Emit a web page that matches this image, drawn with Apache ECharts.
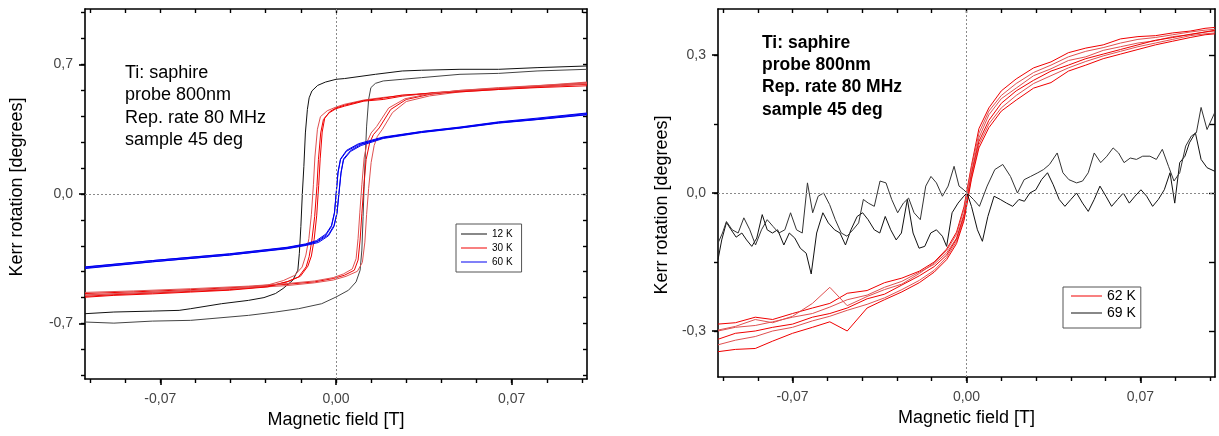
<!DOCTYPE html>
<html><head><meta charset="utf-8">
<script src="https://cdn.jsdelivr.net/npm/echarts@6/dist/echarts.min.js"></script>
<style>html,body{margin:0;padding:0;background:#fff}#c{width:1219px;height:436px}</style>
</head><body><div id="c"></div>
<script>
// ---------- tick values / labels ----------
const xTicks = [-0.098,-0.084,-0.07,-0.056,-0.042,-0.028,-0.014,0,0.014,0.028,0.042,0.056,0.07,0.084,0.098];
const xLabels = [-0.07, 0, 0.07];
const yTicksL = [-0.98,-0.84,-0.7,-0.56,-0.42,-0.28,-0.14,0,0.14,0.28,0.42,0.56,0.7,0.84,0.98];
const yLabelsL = [-0.7, 0, 0.7];
const yTicksR = [-0.3,-0.15,0,0.15,0.3];
const yLabelsR = [-0.3, 0, 0.3];

// ---------- left plot: 12 K ----------
const k12DownX = [0.1,0.0801,0.0648,0.0494,0.0341,0.0264,0.0157,0.0034,0,-0.0042,-0.0073,-0.0096,-0.0107,-0.0114,-0.0122,-0.0128,-0.0134,-0.0140,-0.0146,-0.0152,-0.0172,-0.0211,-0.0241,-0.0287,-0.0349,-0.0456,-0.0579,-0.0625,-0.0732,-0.0885,-0.1];
const k12DownY = [0.692,0.683,0.674,0.674,0.669,0.665,0.647,0.624,0.620,0.605,0.587,0.557,0.520,0.457,0.330,0.149,0.005,-0.176,-0.321,-0.412,-0.466,-0.511,-0.538,-0.560,-0.575,-0.593,-0.620,-0.629,-0.633,-0.638,-0.647];
const k12UpX = [-0.1,-0.0885,-0.0732,-0.0579,-0.0502,-0.0349,-0.0241,-0.0149,-0.0057,0,0.0050,0.0080,0.0096,0.0103,0.0108,0.0111,0.0116,0.0122,0.0130,0.0139,0.0157,0.0188,0.0264,0.0341,0.0494,0.0648,0.0801,0.1];
const k12UpY = [-0.692,-0.698,-0.687,-0.683,-0.674,-0.656,-0.638,-0.620,-0.593,-0.557,-0.520,-0.475,-0.412,-0.303,-0.122,0.005,0.186,0.367,0.511,0.575,0.598,0.611,0.620,0.629,0.647,0.652,0.665,0.674];

// ---------- left plot: 30 K (three loops) ----------
const k30DownX1 = [0.1,0.0801,0.0648,0.0494,0.0387,0.0264,0.0188,0.0111,0.0034,0,-0.0027,-0.0050,-0.0061,-0.0070,-0.0076,-0.0085,-0.0096,-0.0107,-0.0119,-0.0149,-0.0195,-0.0272,-0.0425,-0.0579,-0.0732,-0.0885,-0.1];
const k30DownY1 = [0.593,0.580,0.569,0.557,0.548,0.529,0.511,0.502,0.475,0.461,0.439,0.403,0.330,0.186,0.041,-0.122,-0.249,-0.339,-0.394,-0.448,-0.475,-0.499,-0.517,-0.526,-0.535,-0.544,-0.553];
const k30UpX1 = [-0.1,-0.0808,-0.0579,-0.0349,-0.0195,-0.0085,-0.0011,0.0034,0.0073,0.0088,0.0096,0.0103,0.0111,0.0120,0.0134,0.0149,0.0172,0.0218,0.0280,0.0372,0.0494,0.0648,0.0801,0.1];
const k30UpY1 = [-0.538,-0.529,-0.517,-0.502,-0.488,-0.475,-0.457,-0.439,-0.412,-0.357,-0.249,-0.104,0.041,0.186,0.276,0.321,0.357,0.457,0.511,0.538,0.557,0.569,0.580,0.602];
const k30DownX2 = [0.1,0.0801,0.0648,0.0494,0.0387,0.0264,0.0188,0.0111,0.0034,0,-0.0035,-0.0062,-0.0074,-0.0084,-0.0090,-0.0098,-0.0108,-0.0120,-0.0135,-0.0165,-0.0210,-0.0272,-0.0425,-0.0579,-0.0732,-0.0885,-0.1];
const k30DownY2 = [0.600,0.586,0.575,0.560,0.545,0.532,0.522,0.508,0.485,0.470,0.450,0.418,0.350,0.200,0.050,-0.110,-0.240,-0.330,-0.395,-0.440,-0.468,-0.492,-0.512,-0.522,-0.532,-0.540,-0.548];
const k30UpX2 = [-0.1,-0.0808,-0.0579,-0.0349,-0.0195,-0.0085,-0.0011,0.0040,0.0085,0.0105,0.0115,0.0122,0.0130,0.0140,0.0152,0.0165,0.0185,0.0225,0.0280,0.0372,0.0494,0.0648,0.0801,0.1];
const k30UpY2 = [-0.545,-0.535,-0.522,-0.508,-0.495,-0.480,-0.465,-0.445,-0.418,-0.370,-0.260,-0.110,0.030,0.170,0.262,0.312,0.350,0.440,0.500,0.530,0.552,0.565,0.578,0.596];
const k30DownX3 = [0.1,0.0801,0.0648,0.0494,0.0387,0.0264,0.0188,0.0111,0.0034,0,-0.0025,-0.0045,-0.0055,-0.0063,-0.0069,-0.0077,-0.0087,-0.0098,-0.0112,-0.0142,-0.0190,-0.0272,-0.0425,-0.0579,-0.0732,-0.0885,-0.1];
const k30DownY3 = [0.585,0.575,0.565,0.552,0.545,0.535,0.518,0.505,0.480,0.465,0.445,0.410,0.335,0.190,0.045,-0.118,-0.245,-0.335,-0.390,-0.445,-0.472,-0.502,-0.520,-0.530,-0.540,-0.548,-0.558];
const k30UpX3 = [-0.1,-0.0808,-0.0579,-0.0349,-0.0195,-0.0085,-0.0011,0.0030,0.0065,0.0080,0.0088,0.0095,0.0103,0.0112,0.0125,0.0140,0.0162,0.0210,0.0275,0.0372,0.0494,0.0648,0.0801,0.1];
const k30UpY3 = [-0.532,-0.524,-0.512,-0.498,-0.484,-0.470,-0.452,-0.432,-0.405,-0.350,-0.240,-0.098,0.050,0.195,0.285,0.330,0.365,0.465,0.515,0.542,0.560,0.572,0.585,0.605];

// ---------- left plot: 60 K (two loops) ----------
const k60DownX = [0.1,0.0801,0.0648,0.0494,0.0341,0.0188,0.0090,0.0042,0.0018,0.0008,0.0001,-0.0006,-0.0018,-0.0040,-0.0078,-0.0122,-0.0195,-0.0425,-0.0732,-0.1];
const k60DownY1 = [0.430,0.403,0.385,0.357,0.334,0.303,0.267,0.231,0.186,0.113,0.005,-0.104,-0.176,-0.222,-0.258,-0.276,-0.294,-0.330,-0.367,-0.403];
const k60DownY2 = [0.438,0.410,0.390,0.362,0.338,0.308,0.272,0.236,0.190,0.120,0.010,-0.098,-0.170,-0.216,-0.252,-0.270,-0.288,-0.323,-0.360,-0.396];
const k60UpX = [-0.1,-0.0732,-0.0425,-0.0195,-0.0119,-0.0070,-0.0030,-0.0008,0.0004,0.0012,0.0020,0.0030,0.0058,0.0100,0.0188,0.0341,0.0494,0.0648,0.0801,0.1];
const k60UpY1 = [-0.394,-0.360,-0.325,-0.290,-0.272,-0.255,-0.220,-0.170,-0.100,0.010,0.118,0.190,0.235,0.268,0.305,0.337,0.360,0.388,0.406,0.435];
const k60UpY2 = [-0.400,-0.366,-0.330,-0.296,-0.278,-0.262,-0.226,-0.176,-0.106,0.004,0.112,0.184,0.230,0.262,0.300,0.332,0.356,0.383,0.402,0.428];

// ---------- right plot: 62 K ----------
const k62X = [-0.1,-0.093,-0.085,-0.078,-0.07,-0.062,-0.055,-0.048,-0.04,-0.033,-0.026,-0.019,-0.013,-0.008,-0.004,-0.001,0.002,0.005,0.009,0.014,0.02,0.027,0.034,0.041,0.048,0.055,0.062,0.069,0.076,0.083,0.09,0.096,0.1];
const k62Y1 = [-0.285,-0.282,-0.270,-0.275,-0.262,-0.250,-0.240,-0.218,-0.212,-0.195,-0.185,-0.170,-0.150,-0.122,-0.085,-0.030,0.060,0.140,0.185,0.222,0.248,0.272,0.285,0.305,0.315,0.322,0.335,0.340,0.342,0.348,0.352,0.358,0.360];
const k62Y2 = [-0.300,-0.292,-0.288,-0.280,-0.270,-0.262,-0.248,-0.232,-0.222,-0.205,-0.192,-0.172,-0.155,-0.130,-0.098,-0.045,0.045,0.120,0.170,0.205,0.228,0.255,0.270,0.288,0.296,0.310,0.318,0.326,0.331,0.340,0.344,0.350,0.352];
const k62Y3 = [-0.318,-0.305,-0.300,-0.292,-0.285,-0.270,-0.262,-0.250,-0.230,-0.220,-0.200,-0.180,-0.160,-0.135,-0.100,-0.050,0.040,0.112,0.158,0.195,0.222,0.245,0.265,0.278,0.292,0.302,0.312,0.322,0.332,0.338,0.345,0.350,0.354];
const k62Y4 = [-0.330,-0.320,-0.312,-0.300,-0.292,-0.278,-0.268,-0.255,-0.242,-0.228,-0.210,-0.190,-0.168,-0.140,-0.105,-0.055,0.035,0.105,0.150,0.185,0.212,0.238,0.255,0.272,0.286,0.298,0.308,0.318,0.326,0.334,0.342,0.346,0.348];
const k62Y5 = [-0.345,-0.340,-0.338,-0.322,-0.305,-0.292,-0.280,-0.300,-0.250,-0.232,-0.215,-0.195,-0.172,-0.145,-0.110,-0.060,0.030,0.098,0.142,0.178,0.202,0.228,0.240,0.265,0.278,0.292,0.302,0.312,0.322,0.330,0.338,0.344,0.346];
const k62Y6 = [-0.298,-0.290,-0.275,-0.282,-0.268,-0.240,-0.205,-0.245,-0.225,-0.210,-0.198,-0.175,-0.152,-0.125,-0.090,-0.035,0.055,0.130,0.178,0.212,0.238,0.262,0.278,0.296,0.308,0.316,0.326,0.334,0.338,0.344,0.350,0.354,0.356];

// ---------- right plot: 69 K ----------
const k69X1 = [-0.1000,-0.0985,-0.0966,-0.0947,-0.0927,-0.0904,-0.0885,-0.0864,-0.0844,-0.0822,-0.0802,-0.0781,-0.0760,-0.0735,-0.0713,-0.0691,-0.0669,-0.0645,-0.0625,-0.0603,-0.0578,-0.0556,-0.0531,-0.0509,-0.0487,-0.0465,-0.0440,-0.0418,-0.0396,-0.0371,-0.0349,-0.0327,-0.0305,-0.0283,-0.0262,-0.0238,-0.0215,-0.0191,-0.0168,-0.0144,-0.0121,-0.0097,-0.0080,-0.0058,-0.0034,-0.0011,0.0002,0.0020,0.0044,0.0064,0.0086,0.0111,0.0136,0.0161,0.0186,0.0211,0.0233,0.0255,0.0279,0.0302,0.0326,0.0349,0.0373,0.0396,0.0420,0.0443,0.0467,0.0490,0.0514,0.0537,0.0561,0.0584,0.0608,0.0631,0.0655,0.0678,0.0702,0.0725,0.0749,0.0772,0.0796,0.0819,0.0838,0.0858,0.0879,0.0897,0.0921,0.0944,0.0968,0.1000];
const k69Y1 = [-0.145,-0.102,-0.064,-0.080,-0.096,-0.087,-0.102,-0.116,-0.098,-0.047,-0.080,-0.087,-0.080,-0.113,-0.087,-0.098,-0.120,-0.131,-0.176,-0.087,-0.043,-0.065,-0.080,-0.087,-0.113,-0.080,-0.051,-0.043,-0.058,-0.080,-0.087,-0.051,-0.080,-0.102,-0.087,-0.014,-0.087,-0.120,-0.116,-0.087,-0.080,-0.094,-0.116,-0.043,-0.022,-0.007,0.000,-0.029,-0.080,-0.105,-0.051,-0.007,-0.014,-0.022,-0.029,-0.014,-0.018,0.000,0.007,0.029,0.044,0.018,-0.014,-0.029,-0.014,0.000,-0.022,-0.040,-0.014,0.015,-0.007,-0.029,-0.014,0.000,-0.022,-0.007,0.007,-0.007,-0.029,-0.014,0.007,0.044,-0.022,0.066,0.080,0.109,0.131,0.073,0.055,0.047];
const k69X2 = [-0.1000,-0.0982,-0.0966,-0.0943,-0.0919,-0.0896,-0.0872,-0.0849,-0.0825,-0.0802,-0.0778,-0.0755,-0.0731,-0.0708,-0.0684,-0.0661,-0.0640,-0.0619,-0.0597,-0.0575,-0.0551,-0.0528,-0.0504,-0.0481,-0.0457,-0.0434,-0.0415,-0.0395,-0.0371,-0.0348,-0.0324,-0.0301,-0.0277,-0.0254,-0.0233,-0.0211,-0.0186,-0.0164,-0.0143,-0.0121,-0.0097,-0.0074,-0.0050,-0.0030,-0.0011,0.0002,0.0028,0.0052,0.0083,0.0114,0.0146,0.0177,0.0205,0.0232,0.0258,0.0287,0.0310,0.0334,0.0365,0.0388,0.0412,0.0443,0.0467,0.0490,0.0514,0.0540,0.0565,0.0590,0.0612,0.0634,0.0659,0.0684,0.0709,0.0738,0.0764,0.0788,0.0813,0.0835,0.0858,0.0882,0.0905,0.0925,0.0944,0.0968,0.0999];
const k69Y2 = [-0.109,-0.087,-0.062,-0.080,-0.087,-0.054,-0.080,-0.113,-0.080,-0.058,-0.073,-0.087,-0.080,-0.043,-0.080,-0.087,0.022,-0.043,-0.007,0.000,-0.025,-0.058,-0.087,-0.094,-0.080,-0.065,-0.014,-0.022,-0.029,0.026,0.022,-0.014,-0.043,-0.022,-0.011,-0.043,-0.058,0.015,0.036,0.022,-0.007,0.015,0.058,0.015,0.007,0.000,-0.014,-0.029,0.015,0.051,0.062,0.036,0.000,0.029,0.036,0.044,0.051,0.062,0.087,0.044,0.029,0.022,0.026,0.044,0.087,0.066,0.080,0.098,0.087,0.066,0.076,0.073,0.080,0.080,0.073,0.095,0.058,0.026,0.044,0.102,0.124,0.131,0.186,0.138,0.175];

const noteLines = ['Ti: saphire', 'probe 800nm', 'Rep. rate 80 MHz', 'sample 45 deg'];
const xTitle = 'Magnetic field [T]';
const yTitle = 'Kerr rotation [degrees]';

// ---------- build ----------
const FONT = '"Liberation Sans", Arial, sans-serif';
const zip = (xs, ys) => xs.map((x, i) => [x, ys[i]]);
function ln(name, xs, ys, color, g) {
  return { type: 'line', name, data: zip(xs, ys), xAxisIndex: g * 3, yAxisIndex: g * 3,
    symbol: 'none', showSymbol: false, silent: true, animation: false,
    lineStyle: { color, width: 1 }, itemStyle: { color }, z: 3 };
}
const zeroLines = {
  silent: true, symbol: 'none', label: { show: false },
  lineStyle: { color: '#8a8a8a', type: [2, 2], width: 1 },
  data: [{ xAxis: 0 }, { yAxis: 0 }], animation: false
};
const fmtX = v => v.toFixed(2).replace('.', ',');
const fmtY = v => v.toFixed(1).replace('.', ',');

function xAxes(g) {
  const base = { type: 'value', gridIndex: g, min: -0.1, max: 0.1, splitLine: { show: false } };
  return [
    Object.assign({}, base, {
      position: 'bottom',
      axisLine: { show: true, onZero: false, lineStyle: { color: '#000', width: 1.6 } },
      axisTick: { show: true, customValues: xLabels, length: 6, lineStyle: { color: '#000', width: 1.6 } },
      axisLabel: { customValues: xLabels, formatter: fmtX, margin: 13, fontSize: 14, color: '#444', fontFamily: FONT },
      name: xTitle, nameLocation: 'middle', nameGap: 32,
      nameTextStyle: { fontSize: 18, color: '#000', fontFamily: FONT }
    }),
    Object.assign({}, base, {
      position: 'bottom',
      axisLine: { show: false, onZero: false },
      axisTick: { show: true, customValues: xTicks, length: 4, lineStyle: { color: '#000', width: 1.4 } },
      axisLabel: { show: false }
    }),
    Object.assign({}, base, {
      position: 'top',
      axisLine: { show: true, onZero: false, lineStyle: { color: '#000', width: 1.6 } },
      axisTick: { show: true, inside: true, customValues: xTicks, length: 4, lineStyle: { color: '#000', width: 1.4 } },
      axisLabel: { show: false }
    })
  ];
}
function yAxes(g, min, max, ticks, labels, rightLen) {
  const base = { type: 'value', gridIndex: g, min, max, splitLine: { show: false } };
  return [
    Object.assign({}, base, {
      position: 'left',
      axisLine: { show: true, onZero: false, lineStyle: { color: '#000', width: 1.6 } },
      axisTick: { show: true, customValues: labels, length: 6, lineStyle: { color: '#000', width: 1.6 } },
      axisLabel: { customValues: labels, formatter: fmtY, margin: 12, fontSize: 14, color: '#444', fontFamily: FONT }
    }),
    Object.assign({}, base, {
      position: 'left',
      axisLine: { show: false, onZero: false },
      axisTick: { show: true, customValues: ticks, length: 4, lineStyle: { color: '#000', width: 1.4 } },
      axisLabel: { show: false }
    }),
    Object.assign({}, base, {
      position: 'right',
      axisLine: { show: true, onZero: false, lineStyle: { color: '#000', width: 1.6 } },
      axisTick: { show: true, inside: true, customValues: ticks, length: rightLen, lineStyle: { color: '#000', width: 1.4 } },
      axisLabel: { show: false }
    })
  ];
}

const RED = '#f00000', RED2 = '#e05050', BLACK = '#111', BLUE = '#0000f0';
const series = [
  Object.assign(ln('12 K', k12DownX, k12DownY, BLACK, 0), { markLine: zeroLines }),
  ln('12 K', k12UpX, k12UpY, '#444', 0),
  ln('30 K', k30DownX1, k30DownY1, RED, 0),
  ln('30 K', k30UpX1, k30UpY1, RED, 0),
  ln('30 K', k30DownX2, k30DownY2, RED2, 0),
  ln('30 K', k30UpX2, k30UpY2, RED2, 0),
  ln('30 K', k30DownX3, k30DownY3, RED, 0),
  ln('30 K', k30UpX3, k30UpY3, RED2, 0),
  ln('60 K', k60DownX, k60DownY1, BLUE, 0),
  ln('60 K', k60UpX, k60UpY1, BLUE, 0),
  ln('60 K', k60DownX, k60DownY2, BLUE, 0),
  ln('60 K', k60UpX, k60UpY2, BLUE, 0),
  Object.assign(ln('62 K', k62X, k62Y1, RED, 1), { markLine: zeroLines }),
  ln('62 K', k62X, k62Y2, RED2, 1),
  ln('62 K', k62X, k62Y3, RED, 1),
  ln('62 K', k62X, k62Y4, RED2, 1),
  ln('62 K', k62X, k62Y5, RED, 1),
  ln('62 K', k62X, k62Y6, RED2, 1),
  ln('69 K', k69X1, k69Y1, BLACK, 1),
  ln('69 K', k69X2, k69Y2, '#333', 1)
];

function note(left, top, size, weight) {
  return noteLines.map((t, i) => ({
    type: 'text', left, top: top + i * 22.3, silent: true,
    style: { text: t, fontSize: size, fontWeight: weight, fill: '#000', fontFamily: FONT }
  }));
}
function yName(x, y) {
  return { type: 'text', x, y, rotation: Math.PI / 2, silent: true,
    style: { text: yTitle, fontSize: 18, fill: '#000', fontFamily: FONT, align: 'center', verticalAlign: 'middle' } };
}

const option = {
  animation: false,
  backgroundColor: '#fff',
  grid: [
    { left: 85, top: 9, width: 502, height: 370 },
    { left: 718, top: 9, width: 497, height: 368 }
  ],
  xAxis: xAxes(0).concat(xAxes(1)),
  yAxis: yAxes(0, -1, 1, yTicksL, yLabelsL, 4).concat(yAxes(1, -0.4, 0.4, yTicksR, yLabelsR, 6)),
  legend: [
    { data: ['12 K', '30 K', '60 K'], orient: 'vertical', left: 456, top: 224, icon: 'rect',
      itemWidth: 26, itemHeight: 1, itemGap: 2, itemTextGap: 4, selectedMode: false,
      padding: [4, 9, 4, 5], borderColor: '#555', borderWidth: 1, borderRadius: 0,
      textStyle: { fontSize: 10, color: '#000', fontFamily: FONT, lineHeight: 12 } },
    { data: ['62 K', '69 K'], orient: 'vertical', left: 1063, top: 287, icon: 'rect',
      itemWidth: 31, itemHeight: 1, itemGap: 3, itemTextGap: 6, selectedMode: false,
      padding: [2, 5, 8, 8], borderColor: '#555', borderWidth: 1, borderRadius: 0,
      textStyle: { fontSize: 14, color: '#000', fontFamily: FONT, lineHeight: 14 } }
  ],
  graphic: note(125, 64, 18, 'normal').concat(note(762, 34, 17.5, 'bold')).concat([yName(17, 187), yName(662, 205)]),
  series
};
const chart = echarts.init(document.getElementById('c'), null, { renderer: 'canvas' });
chart.setOption(option);
</script></body></html>
